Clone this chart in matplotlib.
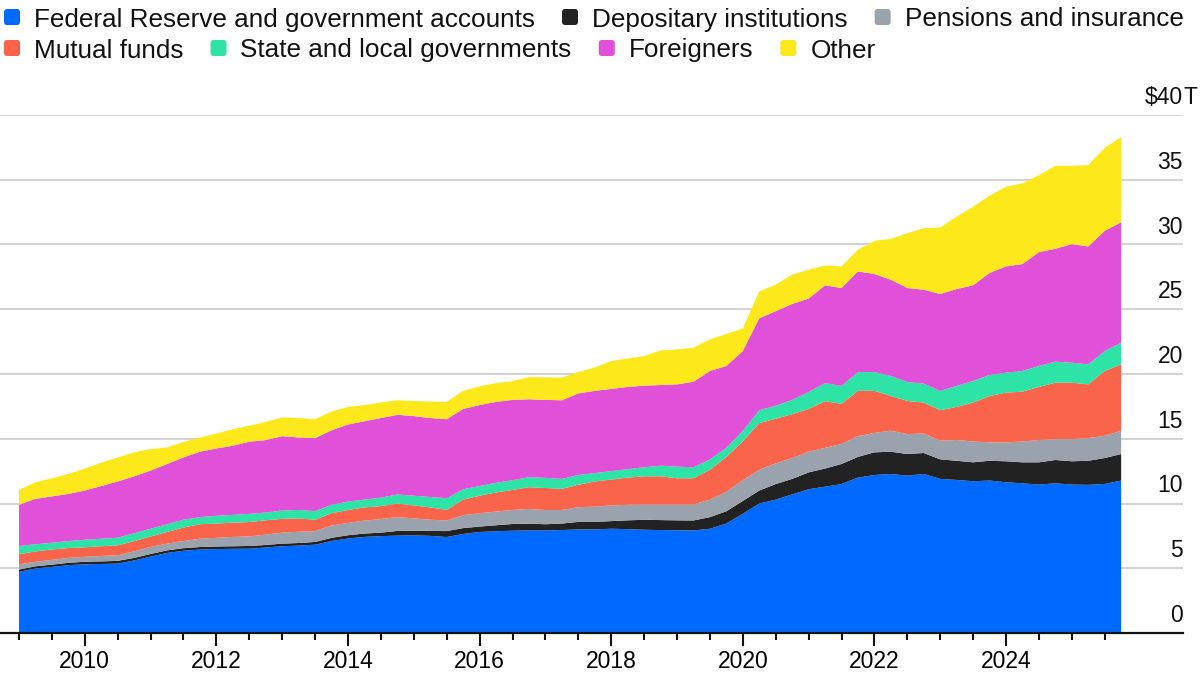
import numpy as np
import matplotlib.pyplot as plt
from matplotlib.patches import FancyBboxPatch
from matplotlib.transforms import blended_transform_factory, offset_copy

plt.rcParams["font.family"] = ["Liberation Sans", "DejaVu Sans"]

# Quarterly, 2009 Q1 .. 2025 Q4 ($T)
quarters = np.arange(2009.0, 2025.76, 0.25)

fed_gov = [4.72, 4.98, 5.10, 5.24, 5.30, 5.33, 5.36, 5.60, 5.90, 6.18, 6.35, 6.44,
           6.48, 6.50, 6.51, 6.60, 6.70, 6.75, 6.82, 7.10, 7.30, 7.42, 7.48, 7.52,
           7.54, 7.50, 7.41, 7.65, 7.80, 7.86, 7.90, 7.92, 7.92, 7.95, 8.00, 8.00,
           8.05, 8.02, 7.97, 7.95, 7.93, 7.92, 8.05, 8.45, 9.20, 10.00, 10.30, 10.70,
           11.10, 11.30, 11.50, 12.00, 12.20, 12.28, 12.15, 12.28, 11.90, 11.82, 11.72, 11.77,
           11.64, 11.56, 11.46, 11.56, 11.46, 11.44, 11.51, 11.77]
depositary = [0.18, 0.17, 0.18, 0.18, 0.20, 0.20, 0.21, 0.20, 0.20, 0.20, 0.20, 0.20,
              0.20, 0.20, 0.21, 0.20, 0.20, 0.20, 0.21, 0.25, 0.25, 0.26, 0.27, 0.36,
              0.36, 0.38, 0.46, 0.45, 0.42, 0.46, 0.52, 0.52, 0.48, 0.50, 0.58, 0.58,
              0.59, 0.68, 0.77, 0.77, 0.77, 0.77, 0.90, 0.95, 1.00, 1.00, 1.20, 1.20,
              1.30, 1.40, 1.55, 1.60, 1.75, 1.72, 1.67, 1.62, 1.51, 1.48, 1.46, 1.53,
              1.62, 1.62, 1.72, 1.80, 1.80, 1.86, 2.00, 2.05]
pensions = [0.40, 0.35, 0.37, 0.38, 0.38, 0.42, 0.43, 0.50, 0.55, 0.52, 0.55, 0.64,
            0.67, 0.72, 0.74, 0.80, 0.85, 0.87, 0.84, 0.95, 0.95, 1.00, 1.05, 1.07,
            0.95, 0.87, 0.82, 1.00, 1.03, 1.06, 1.08, 1.14, 1.10, 1.05, 1.14, 1.17,
            1.21, 1.20, 1.18, 1.20, 1.22, 1.23, 1.35, 1.50, 1.60, 1.60, 1.60, 1.60,
            1.60, 1.60, 1.55, 1.60, 1.50, 1.62, 1.54, 1.51, 1.44, 1.60, 1.61, 1.42,
            1.46, 1.61, 1.72, 1.61, 1.71, 1.75, 1.72, 1.80]
mutual_funds = [0.78, 0.80, 0.80, 0.76, 0.74, 0.75, 0.77, 0.80, 0.80, 0.90, 1.05, 1.12,
                1.10, 1.10, 1.11, 1.10, 1.07, 1.03, 0.87, 0.95, 1.00, 1.02, 1.00, 1.05,
                1.00, 0.95, 0.82, 1.20, 1.35, 1.47, 1.55, 1.68, 1.70, 1.63, 1.73, 1.95,
                2.00, 2.10, 2.18, 2.18, 2.03, 2.03, 2.30, 2.70, 3.00, 3.60, 3.45, 3.40,
                3.30, 3.60, 3.10, 3.50, 3.25, 2.68, 2.56, 2.38, 2.36, 2.56, 3.00, 3.58,
                3.84, 3.85, 4.10, 4.36, 4.36, 4.15, 5.00, 5.12]
state_local = [0.64, 0.55, 0.52, 0.54, 0.58, 0.58, 0.59, 0.60, 0.60, 0.60, 0.60, 0.55,
               0.60, 0.60, 0.63, 0.60, 0.64, 0.65, 0.67, 0.65, 0.65, 0.60, 0.65, 0.70,
               0.75, 0.80, 0.90, 0.80, 0.75, 0.75, 0.75, 0.77, 0.78, 0.77, 0.75, 0.65,
               0.65, 0.65, 0.70, 0.82, 0.90, 0.84, 0.80, 0.70, 0.80, 1.00, 1.00, 1.10,
               1.30, 1.40, 1.38, 1.45, 1.45, 1.55, 1.46, 1.47, 1.48, 1.62, 1.67, 1.62,
               1.54, 1.59, 1.62, 1.62, 1.54, 1.54, 1.54, 1.67]
foreigners = [3.18, 3.51, 3.58, 3.64, 3.80, 4.07, 4.34, 4.40, 4.49, 4.65, 4.81, 5.05,
              5.20, 5.34, 5.57, 5.60, 5.74, 5.60, 5.64, 5.75, 5.95, 6.05, 6.15, 6.15,
              6.15, 6.10, 6.10, 6.20, 6.25, 6.25, 6.20, 6.02, 6.02, 6.07, 6.30, 6.35,
              6.35, 6.35, 6.30, 6.23, 6.35, 6.61, 6.83, 6.32, 6.17, 7.10, 7.30, 7.41,
              7.22, 7.55, 7.56, 7.77, 7.57, 7.43, 7.26, 7.25, 7.49, 7.48, 7.39, 7.88,
              8.21, 8.26, 8.79, 8.72, 9.16, 9.11, 9.28, 9.31]
other = [1.15, 1.28, 1.40, 1.54, 1.70, 1.80, 1.85, 1.85, 1.66, 1.28, 1.19, 1.10,
         1.15, 1.28, 1.23, 1.40, 1.44, 1.50, 1.46, 1.45, 1.35, 1.25, 1.20, 1.12,
         1.17, 1.27, 1.33, 1.40, 1.45, 1.45, 1.45, 1.72, 1.74, 1.75, 1.65, 1.80,
         2.15, 2.20, 2.28, 2.67, 2.70, 2.63, 2.44, 2.48, 1.74, 2.08, 2.05, 2.26,
         2.23, 1.53, 1.67, 1.67, 2.56, 3.16, 4.23, 4.75, 5.13, 5.59, 6.07, 5.97,
         6.15, 6.23, 5.95, 6.41, 6.05, 6.28, 6.41, 6.58]

labels = ["Federal Reserve and government accounts", "Depositary institutions",
          "Pensions and insurance", "Mutual funds", "State and local governments",
          "Foreigners", "Other"]
palette = ["#0069ff", "#222222", "#9aa3ad", "#fa644b", "#2de3a5", "#e150d8", "#fde81c"]

y_ticks = [0, 5, 10, 15, 20, 25, 30, 35, 40]
x_label_years = [2010, 2012, 2014, 2016, 2018, 2020, 2022, 2024]

fig = plt.figure(figsize=(12, 6.75), dpi=100)
ax = fig.add_axes([0, 1 - 633 / 675, 1183 / 1200, 518 / 675])

ax.stackplot(quarters, fed_gov, depositary, pensions, mutual_funds, state_local,
             foreigners, other, colors=palette, linewidth=0, zorder=2)

# Axes format
ax.set_xlim(2009 - 19 / 65.8, 2009 + (1183 - 19) / 65.8)
ax.set_ylim(0, 40)
for side in ("top", "left", "right"):
    ax.spines[side].set_visible(False)
ax.spines["bottom"].set_linewidth(1.6)
ax.spines["bottom"].set_color("#111111")
ax.spines["bottom"].set_zorder(5)

ax.set_yticks(y_ticks[1:])
ax.tick_params(axis="y", length=0, labelleft=False)
ax.grid(axis="y", color="#cfcfcf", linewidth=1.3, zorder=0)
ax.set_axisbelow(True)

ax.set_xticks(x_label_years)
ax.set_xticklabels([str(y) for y in x_label_years])
ax.set_xticks(np.arange(2009, 2025.6, 0.5), minor=True)
ax.tick_params(axis="x", which="major", length=9, width=1.5, color="#111111",
               labelsize=16.5, pad=3)
ax.tick_params(axis="x", which="minor", length=5, width=1.5, color="#111111")

# Right-hand value labels sitting on the gridlines
trans = offset_copy(blended_transform_factory(ax.transAxes, ax.transData),
                    fig=fig, x=0, y=11, units="dots")
for v in y_ticks:
    txt = "$40" if v == 40 else str(v)
    ax.text(1.0, v, txt, transform=trans, ha="right", va="baseline", fontsize=16.5,
            color="#111111")
ax.text(1.0, 40, "T", transform=trans, ha="left", va="baseline", fontsize=16.5,
        color="#111111")

# Legend laid out in two flowing rows
rows = [[0, 1, 2], [3, 4, 5, 6]]
row_y = [17, 48]
renderer = fig.canvas.get_renderer()
for row, yc in zip(rows, row_y):
    x = 4
    for i in row:
        box = FancyBboxPatch((x, 675 - yc - 8), 16, 16, boxstyle="round,pad=0,rounding_size=3",
                             transform=None, facecolor=palette[i], edgecolor="none")
        fig.patches.append(box)
        t = fig.text((x + 30) / 1200, 1 - yc / 675, labels[i], ha="left", va="center_baseline",
                     fontsize=18.8, color="#111111")
        bb = t.get_window_extent(renderer)
        x = bb.x1 + 27

fig.savefig("out.png", dpi=100)
